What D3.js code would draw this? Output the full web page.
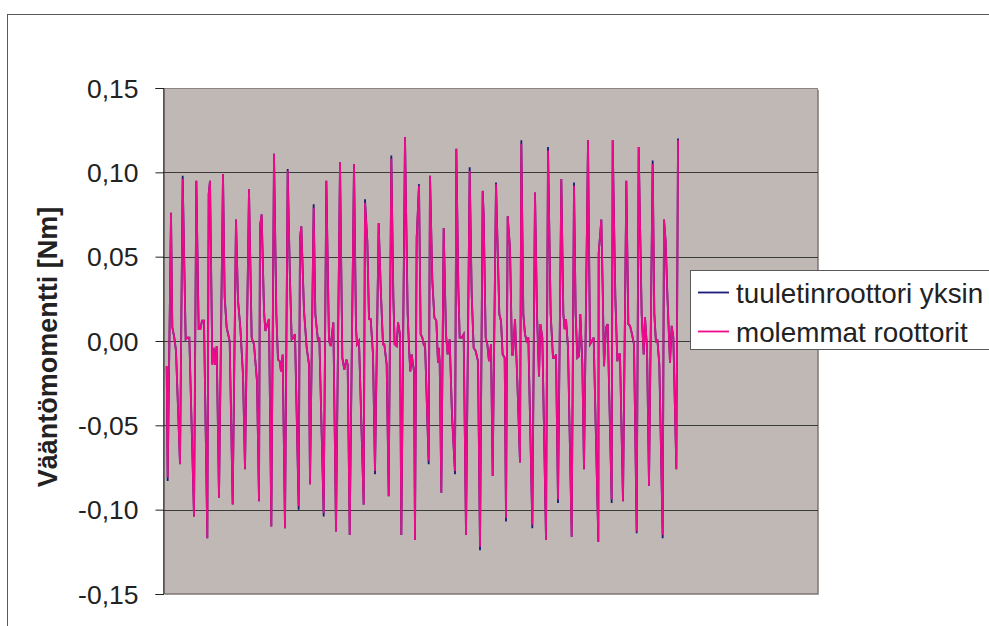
<!DOCTYPE html>
<html>
<head>
<meta charset="utf-8">
<script src="https://cdn.jsdelivr.net/npm/d3@7"></script>
<style>
  html, body { margin: 0; padding: 0; background: #fff; }
  svg { display: block; }
</style>
</head>
<body>
<svg id="chart" width="989" height="626"></svg>
<script>
// ---- data ----
const seriesNames = ["tuuletinroottori yksin", "molemmat roottorit"];
const yTicks = [-0.15, -0.10, -0.05, 0, 0.05, 0.10, 0.15];
const yTitle = "Vääntömomentti [Nm]";

const sampleT = [0,3,13,17,23,28,40,48,57,62,68,82,89,96,101,106,112,122,126,130,137,141,145,150,157,169,174,180,189,198,208,214,221,229,235,247,255,262,271,277,280,285,292,296,302,307,314,322,329,334,339,343,348,355,
363,370,375,380,385,396,400,404,412,420,427,430,441,446,454,458,471,479,487,492,500,508,520,527,533,539,543,549,562,568,571,577,591,595,602,607,612,619,625,636,642,649,653,660,666,674,680,684,690,694,700,704,715,
723,728,731,735,742,745,750,757,762,767,772,775,786,790,797,803,809,814,816,819,824,831,838,843,849,856,865,869,875,879,885,891,898,909,915,921,927,934,940,948,951,957,962,967,973,978,988,998,1003,1008,1014,1018,1023,1030,1036,1039,1045,1052,1060,1064,1070,1075,1080,1085,1097,
1105,1111,1117,1121,1127,1138,1144,1152,1159,1164,1168,1174,1184,1190,1194,1198,1204,1215,1222,1227,1232,1237,1241,1247,1252,1264,1270,1276,1281,1295,1296,1304,1308,1312,1318,1323,1335,1338,1346,1352,1356,1360,1369,1379,1385,1390,1396,1402,1410,1416,1425,1431,1435,1441,1447,1458,1463,1468,1472,1478,1488,1492,1497,1502,1510,1515,1520,1529,1534];

const tuuletinYksin = [-0.015,-0.083,0.076,0.008,0.002,-0.006,-0.073,0.098,0.001,0.002,0.002,-0.104,0.095,0.007,0.007,0.012,0.012,-0.117,0.087,0.095,-0.014,-0.004,-0.014,-0.003,-0.093,0.099,0.026,0.008,0.000,-0.097,0.072,0.024,0.008,-0.020,-0.076,0.090,0.002,-0.002,-0.024,-0.095,0.068,0.075,0.018,0.006,0.010,0.013,-0.110,0.111,0.016,-0.011,-0.012,-0.018,-0.008,-0.111,
0.102,0.036,0.001,0.002,0.004,-0.100,0.061,0.068,0.018,-0.004,-0.014,-0.085,0.081,0.016,0.000,0.002,-0.104,0.095,0.000,-0.003,0.011,-0.113,0.106,-0.010,-0.017,-0.011,-0.014,-0.115,0.105,0.008,-0.002,0.000,-0.097,0.084,0.059,0.013,0.013,-0.008,-0.079,0.070,0.032,-0.002,-0.002,-0.014,-0.092,0.110,0.026,-0.002,-0.003,0.011,0.004,-0.115,0.121,
0.016,-0.008,-0.018,-0.008,-0.018,-0.118,0.061,0.093,0.004,0.002,-0.003,-0.001,-0.073,0.098,0.036,0.014,0.012,-0.013,-0.004,-0.012,-0.090,0.067,0.004,-0.008,0.001,-0.044,-0.079,0.114,0.032,0.002,0.002,0.004,-0.115,0.103,0.028,-0.004,-0.006,-0.012,-0.124,0.089,0.075,0.002,-0.002,-0.012,-0.002,-0.080,0.094,0.016,0.012,-0.008,-0.010,-0.107,0.074,0.055,-0.008,-0.008,0.013,-0.024,-0.072,0.119,0.016,0.004,0.000,0.002,-0.111,
0.088,0.016,-0.021,0.010,0.002,-0.118,0.115,0.016,-0.010,-0.010,-0.008,-0.096,0.096,0.016,0.007,0.013,-0.004,-0.116,0.094,0.016,-0.010,-0.009,0.016,-0.014,-0.076,0.119,-0.002,0.000,0.002,-0.119,0.052,0.072,0.032,-0.015,0.008,0.010,-0.096,0.119,0.026,-0.012,-0.008,-0.008,-0.095,0.095,0.010,0.009,0.004,-0.002,-0.114,0.115,0.016,-0.008,0.014,-0.004,-0.086,0.107,0.016,-0.001,0.001,-0.014,-0.117,0.072,0.059,0.028,-0.013,0.009,0.002,-0.076,0.120];

const molemmatRoottorit = [-0.015,-0.081,0.076,0.008,0.002,-0.006,-0.073,0.096,0.001,0.002,0.002,-0.104,0.095,0.007,0.007,0.012,0.012,-0.117,0.087,0.095,-0.014,-0.004,-0.014,-0.003,-0.093,0.099,0.026,0.008,0.000,-0.097,0.072,0.024,0.008,-0.020,-0.076,0.090,0.002,-0.002,-0.024,-0.095,0.068,0.075,0.018,0.006,0.010,0.013,-0.110,0.111,0.016,-0.011,-0.012,-0.018,-0.008,-0.111,
0.101,0.036,0.001,0.002,0.004,-0.098,0.061,0.068,0.018,-0.004,-0.014,-0.085,0.079,0.016,0.000,0.002,-0.102,0.095,0.000,-0.003,0.011,-0.113,0.106,-0.010,-0.017,-0.011,-0.014,-0.115,0.105,0.008,-0.002,0.000,-0.097,0.082,0.059,0.013,0.013,-0.008,-0.077,0.070,0.032,-0.002,-0.002,-0.014,-0.092,0.108,0.026,-0.002,-0.003,0.011,0.004,-0.115,0.121,
0.016,-0.008,-0.018,-0.008,-0.018,-0.118,0.061,0.092,0.004,0.002,-0.003,-0.001,-0.071,0.098,0.036,0.014,0.012,-0.013,-0.004,-0.012,-0.090,0.067,0.004,-0.008,0.001,-0.044,-0.077,0.114,0.032,0.002,0.002,0.004,-0.115,0.101,0.028,-0.004,-0.006,-0.012,-0.122,0.089,0.075,0.002,-0.002,-0.012,-0.002,-0.080,0.093,0.016,0.012,-0.008,-0.010,-0.105,0.074,0.055,-0.008,-0.008,0.013,-0.024,-0.072,0.117,0.016,0.004,0.000,0.002,-0.109,
0.088,0.016,-0.021,0.010,0.002,-0.118,0.113,0.016,-0.010,-0.010,-0.008,-0.094,0.096,0.016,0.007,0.013,-0.004,-0.116,0.092,0.016,-0.010,-0.009,0.016,-0.014,-0.076,0.119,-0.002,0.000,0.002,-0.119,0.052,0.072,0.032,-0.015,0.008,0.010,-0.094,0.119,0.026,-0.012,-0.008,-0.008,-0.095,0.095,0.010,0.009,0.004,-0.002,-0.113,0.115,0.016,-0.008,0.014,-0.004,-0.086,0.105,0.016,-0.001,0.001,-0.014,-0.115,0.072,0.059,0.028,-0.013,0.009,0.002,-0.076,0.119];

// ---- layout ----
const W = 989, H = 626;
const plot = { left: 163, top: 88, right: 818, bottom: 594 };
const colors = ["#1a1a78", "#ee0a8a"];
const font = "'Liberation Sans', Arial, sans-serif";

const svg = d3.select("#chart");

// outer chart border
svg.append("rect")
  .attr("x", 7.5).attr("y", 14.5)
  .attr("width", W + 20).attr("height", H + 20)
  .attr("fill", "#fff").attr("stroke", "#5a5a5a").attr("stroke-width", 1);

const x = d3.scaleLinear().domain([-11, 1954]).range([plot.left, plot.right]);
const y = d3.scaleLinear().domain([-0.15, 0.15]).range([plot.bottom, plot.top]);

// plot area background
svg.append("rect")
  .attr("x", plot.left).attr("y", plot.top)
  .attr("width", plot.right - plot.left).attr("height", plot.bottom - plot.top)
  .attr("fill", "#c0b8b5");
svg.append("rect")
  .attr("x", plot.left + 0.5).attr("y", plot.top + 0.5)
  .attr("width", plot.right - plot.left - 1).attr("height", plot.bottom - plot.top - 1)
  .attr("fill", "none").attr("stroke", "#8c8484").attr("stroke-width", 1);
svg.append("path")
  .attr("d", `M${plot.right + 0.5},${plot.top + 2}V${plot.bottom + 0.5}H${plot.left + 2}`)
  .attr("fill", "none").attr("stroke", "#a09898").attr("stroke-width", 1);

// gridlines
svg.append("g").selectAll("line")
  .data(yTicks.filter(d => d > -0.15 && d < 0.15))
  .join("line")
  .attr("x1", plot.left).attr("x2", plot.right)
  .attr("y1", d => Math.round(y(d)) + 0.5).attr("y2", d => Math.round(y(d)) + 0.5)
  .attr("stroke", "#3a3a3a").attr("stroke-width", 1);

// y axis
const loc = d3.formatLocale({ decimal: ",", thousands: " ", grouping: [3], currency: ["", ""], minus: "-" });
const fmt = loc.format(".2f");
const yAxis = d3.axisLeft(y).tickValues(yTicks).tickFormat(fmt).tickSize(8).tickPadding(17);
const gy = svg.append("g").attr("transform", `translate(${plot.left + 0.5},0)`).call(yAxis);
gy.select(".domain").attr("stroke", "#222").attr("stroke-width", 1);
gy.selectAll(".tick line").attr("stroke", "#222");
gy.selectAll(".tick text")
  .attr("font-family", font).attr("font-size", 26.5).attr("fill", "#222")
  .attr("dy", "0.34em");

// y axis title
svg.append("text")
  .attr("transform", `translate(57,347) rotate(-90)`)
  .attr("text-anchor", "middle")
  .attr("font-family", font).attr("font-weight", "bold").attr("font-size", 27)
  .attr("fill", "#222")
  .text(yTitle);

// series lines
const series = [tuuletinYksin, molemmatRoottorit];
const line = d3.line()
  .x((d, i) => x(sampleT[i]))
  .y(d => y(d));
series.forEach((vals, k) => {
  svg.append("path")
    .datum(vals)
    .attr("d", line)
    .attr("fill", "none")
    .attr("stroke", colors[k])
    .attr("stroke-width", 1.8)
    .attr("stroke-linejoin", "miter")
    .attr("stroke-miterlimit", 4);
});

// legend
const lg = svg.append("g");
lg.append("rect")
  .attr("x", 690.5).attr("y", 270.5)
  .attr("width", 320).attr("height", 79)
  .attr("fill", "#fff").attr("stroke", "#5a5a5a").attr("stroke-width", 1);
seriesNames.forEach((name, k) => {
  const ly = [292.5, 331.5][k];
  lg.append("line")
    .attr("x1", 698).attr("x2", 729)
    .attr("y1", ly).attr("y2", ly)
    .attr("stroke", colors[k]).attr("stroke-width", 1.8);
  lg.append("text")
    .attr("x", 736).attr("y", ly + 10.5)
    .attr("font-family", font).attr("font-size", 27.8)
    .attr("fill", "#222")
    .text(name);
});
</script>
</body>
</html>
